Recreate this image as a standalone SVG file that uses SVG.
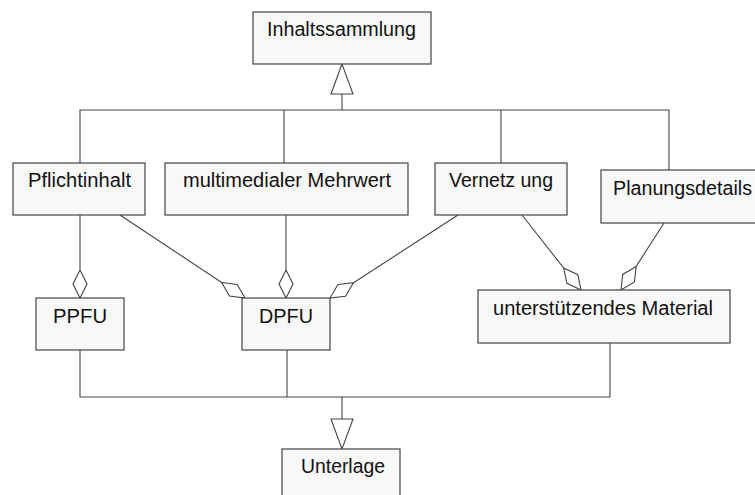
<svg xmlns="http://www.w3.org/2000/svg" width="755" height="495" viewBox="0 0 755 495">
  <style>
    .box { fill: #f8f8f8; stroke: #444; stroke-width: 1.2; }
    .lbl { font-family: "Liberation Sans", Arial, sans-serif; font-size: 20px; fill: #111; }
    .ln { fill: none; stroke: #444; stroke-width: 1.1; }
    .agg { fill: none; stroke: #444; stroke-width: 1.1; marker-end: url(#diamond); }
    .tri { fill: #fff; stroke: #444; stroke-width: 1.1; }
  </style>
  <defs>
    <!-- hollow aggregation diamond, tip sits on the whole's border -->
    <marker id="diamond" viewBox="0 0 28 16" refX="28" refY="8" markerWidth="28" markerHeight="16" markerUnits="userSpaceOnUse" orient="auto">
      <path d="M0,8 L14,1 L28,8 L14,15 Z" fill="#fff" stroke="#444" stroke-width="1.1"/>
    </marker>
  </defs>

  <g id="connectors">
    <!-- generalisation to Inhaltssammlung -->
    <path class="ln" d="M80,163 V110 H669 V170 M284,110 V163 M501,110 V163 M342,110 V94"/>
    <polygon class="tri" points="342,64 331,94 353,94"/>
    <!-- aggregations -->
    <line class="agg" x1="80" y1="215" x2="80" y2="298"/>
    <line class="agg" x1="286" y1="215" x2="286" y2="298"/>
    <line class="agg" x1="120" y1="215" x2="245" y2="298"/>
    <line class="agg" x1="458" y1="215" x2="330" y2="298"/>
    <line class="agg" x1="522" y1="215" x2="581" y2="290"/>
    <line class="agg" x1="664" y1="223" x2="621" y2="290"/>
    <!-- generalisation to Unterlage -->
    <path class="ln" d="M80,350 V397 H610 V343 M287,350 V397 M342,397 V419"/>
    <polygon class="tri" points="331,419 353,419 342,449"/>
  </g>

  <g id="inhaltssammlung">
    <rect class="box" x="253" y="12" width="178" height="52"/>
    <text class="lbl" x="267" y="36" textLength="149" lengthAdjust="spacingAndGlyphs">Inhaltssammlung</text>
  </g>
  <g id="pflichtinhalt">
    <rect class="box" x="13" y="163" width="132" height="52"/>
    <text class="lbl" x="28" y="187" textLength="103" lengthAdjust="spacingAndGlyphs">Pflichtinhalt</text>
  </g>
  <g id="mehrwert">
    <rect class="box" x="165" y="163" width="243" height="52"/>
    <text class="lbl" x="183" y="187" textLength="208" lengthAdjust="spacingAndGlyphs">multimedialer Mehrwert</text>
  </g>
  <g id="vernetzung">
    <rect class="box" x="435" y="163" width="132" height="52"/>
    <text class="lbl" x="449" y="187" textLength="104" lengthAdjust="spacingAndGlyphs">Vernetz ung</text>
  </g>
  <g id="planungsdetails">
    <rect class="box" x="601" y="170" width="160" height="53"/>
    <text class="lbl" x="613" y="195" textLength="139" lengthAdjust="spacingAndGlyphs">Planungsdetails</text>
  </g>
  <g id="ppfu">
    <rect class="box" x="36" y="298" width="88" height="52"/>
    <text class="lbl" x="53" y="323" textLength="54" lengthAdjust="spacingAndGlyphs">PPFU</text>
  </g>
  <g id="dpfu">
    <rect class="box" x="242" y="298" width="88" height="52"/>
    <text class="lbl" x="259" y="323" textLength="54" lengthAdjust="spacingAndGlyphs">DPFU</text>
  </g>
  <g id="material">
    <rect class="box" x="478" y="290" width="252" height="53"/>
    <text class="lbl" x="493" y="315" textLength="220" lengthAdjust="spacingAndGlyphs">unterstützendes Material</text>
  </g>
  <g id="unterlage">
    <rect class="box" x="282" y="449" width="118" height="52"/>
    <text class="lbl" x="301" y="473" textLength="84" lengthAdjust="spacingAndGlyphs">Unterlage</text>
  </g>
</svg>
